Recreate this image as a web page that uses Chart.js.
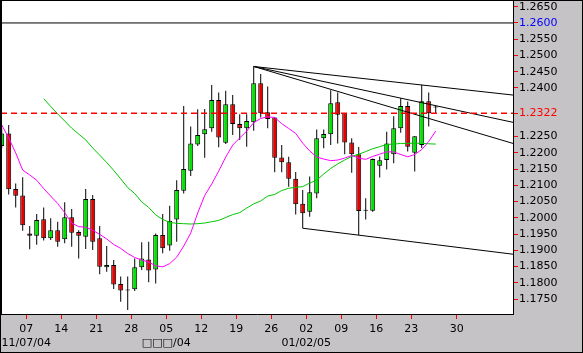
<!DOCTYPE html>
<html><head><meta charset="utf-8">
<script src="https://cdn.jsdelivr.net/npm/chart.js@4.4.1/dist/chart.umd.min.js"></script>
<style>html,body{margin:0;padding:0;background:#fff;overflow:hidden}canvas{display:block}</style>
</head><body>
<canvas id="c" width="583" height="353"></canvas>
<script>
const openP = [1.2221,1.2260,1.2089,1.2069,1.1952,1.1945,1.1996,1.1937,1.1962,1.1934,
1.2002,1.1956,1.1942,1.2058,1.1937,1.1848,1.1855,1.1796,1.1776,1.1780,
1.1848,1.1872,1.1841,1.1947,1.1915,1.1995,1.2083,1.2145,1.2226,1.2257,
1.2276,1.2363,1.2231,1.2350,1.2289,1.2276,1.2294,1.2414,1.2325,1.2309,
1.2186,1.2171,1.2120,1.2043,1.2019,1.2075,1.2245,1.2257,1.2356,1.2322,
1.2232,1.2196,1.2022,1.2022,1.2160,1.2178,1.2196,1.2276,1.2344,1.2200,
1.2224,1.2359,1.2340];
const highP = [1.2277,1.2286,1.2106,1.2125,1.1975,1.2012,1.2032,1.1999,1.1988,1.2048,
1.2027,1.1962,1.2089,1.2070,1.1975,1.1913,1.1870,1.1819,1.1819,1.1875,
1.1925,1.1926,1.1952,1.2012,1.2037,1.2116,1.2344,1.2281,1.2334,1.2335,
1.2409,1.2386,1.2391,1.2378,1.2319,1.2319,1.2466,1.2443,1.2404,1.2309,
1.2224,1.2188,1.2141,1.2086,1.2127,1.2272,1.2272,1.2393,1.2386,1.2322,
1.2245,1.2218,1.2060,1.2183,1.2189,1.2265,1.2313,1.2368,1.2358,1.2251,
1.2410,1.2386,1.2344];
const lowP = [1.2215,1.2072,1.2032,1.1960,1.1903,1.1917,1.1930,1.1932,1.1911,1.1922,
1.1911,1.1875,1.1904,1.1901,1.1826,1.1834,1.1781,1.1742,1.1716,1.1775,
1.1839,1.1802,1.1798,1.1891,1.1899,1.1926,1.2075,1.2129,1.2221,1.2185,
1.2265,1.2217,1.2227,1.2255,1.2240,1.2219,1.2268,1.2309,1.2276,1.2140,
1.2140,1.2096,1.2010,1.1968,1.2003,1.2060,1.2214,1.2224,1.2229,1.2196,
1.2139,1.1947,1.1995,1.2019,1.2124,1.2149,1.2168,1.2262,1.2204,1.2143,
1.2215,1.2281,1.2322];
const closeP = [1.2260,1.2088,1.2068,1.1977,1.1945,1.1993,1.1937,1.1962,1.1926,1.2002,
1.1954,1.1945,1.2058,1.1926,1.1849,1.1855,1.1795,1.1776,1.1776,1.1848,
1.1875,1.1838,1.1947,1.1906,1.1991,1.2086,1.2150,1.2229,1.2255,1.2273,
1.2363,1.2247,1.2350,1.2289,1.2276,1.2298,1.2414,1.2322,1.2304,1.2185,
1.2171,1.2120,1.2042,1.2014,1.2079,1.2245,1.2258,1.2353,1.2317,1.2232,
1.2196,1.2021,1.2022,1.2181,1.2177,1.2229,1.2276,1.2344,1.2219,1.2251,
1.2359,1.2322,1.2340];
const maFast = [1.2286,1.2246,1.2200,1.2147,1.2132,1.2116,1.2090,1.2067,1.2044,1.2016,
1.1984,1.1973,1.1971,1.1962,1.1949,1.1935,1.1918,1.1906,1.1890,1.1878,
1.1870,1.1864,1.1852,1.1849,1.1859,1.1879,1.1913,1.1953,1.2015,1.2069,
1.2104,1.2144,1.2187,1.2224,1.2246,1.2267,1.2293,1.2306,1.2311,1.2309,
1.2290,1.2275,1.2260,1.2230,1.2206,1.2187,1.2181,1.2176,1.2178,1.2184,
1.2192,1.2184,1.2180,1.2189,1.2196,1.2203,1.2203,1.2195,1.2188,1.2195,
1.2210,1.2235,1.2267];
const maSlow = [null,null,null,null,null,null,1.2367,1.2343,1.2320,1.2298,
1.2276,1.2258,1.2240,1.2215,1.2193,1.2170,1.2146,1.2120,1.2093,1.2075,
1.2049,1.2032,1.2009,1.1995,1.1986,1.1983,1.1982,1.1981,1.1982,1.1984,
1.1988,1.1992,1.2001,1.2010,1.2016,1.2030,1.2043,1.2052,1.2067,1.2072,
1.2084,1.2091,1.2094,1.2096,1.2107,1.2116,1.2135,1.2152,1.2166,1.2178,
1.2189,1.2196,1.2204,1.2213,1.2219,1.2226,1.2227,1.2229,1.2229,1.2230,
1.2229,1.2228,1.2227];
const xTickPos = [3.5,8.5,13.5,18.5,23.5,28.5,33.5,38.5,43.5,48.5,53.5,58.5,65];
const xTickLabels = ['07','14','21','28','05','12','19','26','02','09','16','23','30'];
const xTickSub = ['11/07/04','','','','□□□/04','','','','01/02/05','','','',''];
const yTickValues = [1.175,1.18,1.185,1.19,1.195,1.2,1.205,1.21,1.215,1.22,1.225,1.2322,1.24,1.245,1.25,1.255,1.26,1.265];
const lastPrice = 1.2322;
const resistance = 1.26;
const fanStartX = 36, fanStartY = 1.2466;
const fanEndY = [1.2378, 1.2294, 1.2229];
const supportX = [43, 73.04];
const supportY = [1.1968, 1.1888];

const X_MIN = -0.1, X_MAX = 73.04, Y_MIN = 1.17039, Y_MAX = 1.26676;
const idx = openP.map((_, i) => i);
const wickData = idx.map(i => ({x: i, y: [lowP[i], highP[i]]}));
const bodyData = idx.map(i => ({x: i, y: [openP[i], closeP[i]]}));
const bodyColors = idx.map(i => closeP[i] > openP[i] ? '#00e400' : (closeP[i] < openP[i] ? '#e60000' : '#000000'));
const lineDs = (pts, color, extra) => Object.assign({type: 'line', data: pts, borderColor: color, borderWidth: 1, pointRadius: 0, tension: 0, fill: false, order: 0}, extra || {});

const datasets = [
  lineDs([{x: X_MIN, y: resistance}, {x: X_MAX, y: resistance}], '#000000'),
  lineDs([{x: X_MIN, y: lastPrice}, {x: X_MAX, y: lastPrice}], '#ff0000', {borderDash: [6, 4], borderWidth: 1.3}),
  ...fanEndY.map(v => lineDs([{x: fanStartX, y: fanStartY}, {x: X_MAX, y: v}], '#000000')),
  lineDs(supportX.map((x, k) => ({x, y: supportY[k]})), '#000000'),
  lineDs(idx.map(i => ({x: i, y: maFast[i]})), '#ff00ff', {order: 1}),
  lineDs(idx.map(i => ({x: i, y: maSlow[i]})), '#00c800', {order: 1}),
  {type: 'bar', data: bodyData, backgroundColor: bodyColors, borderColor: '#000000', borderWidth: 1, borderSkipped: false,
   barThickness: 5, minBarLength: 1, grouped: false, inflateAmount: 0, order: 2},
  {type: 'bar', data: wickData, backgroundColor: '#000000', borderWidth: 0, barThickness: 1, grouped: false, inflateAmount: 0, order: 3}
];

const frame = {
  id: 'frame',
  beforeDraw(chart) {
    const {ctx, chartArea: a} = chart;
    ctx.save();
    ctx.fillStyle = '#c6c3c6';
    ctx.fillRect(0, 0, chart.width, chart.height);
    ctx.fillStyle = '#ffffff';
    ctx.fillRect(a.left, a.top, a.right - a.left, a.bottom - a.top);
    ctx.restore();
  },
  afterDraw(chart) {
    const {ctx, chartArea: a} = chart;
    ctx.save();
    ctx.strokeStyle = '#000';
    ctx.lineWidth = 1;
    ctx.strokeRect(0.5, 0.5, chart.width - 1, chart.height - 1);
    ctx.beginPath();
    ctx.moveTo(a.left + 0.5, a.top); ctx.lineTo(a.left + 0.5, a.bottom);
    ctx.stroke();
    ctx.restore();
  }
};

const font = {family: 'DejaVu Sans', size: 11};
new Chart(document.getElementById('c'), {
  type: 'bar',
  data: {datasets},
  plugins: [frame],
  options: {
    responsive: false, animation: false, devicePixelRatio: 1,
    layout: {padding: {left: 1, top: 1, right: 0, bottom: 0}},
    plugins: {legend: {display: false}, tooltip: {enabled: false}},
    events: [],
    scales: {
      x: {
        type: 'linear', min: X_MIN, max: X_MAX, offset: false,
        grid: {drawOnChartArea: false, drawTicks: true, tickLength: 5, tickColor: '#ff0000', offset: false},
        border: {color: '#000', width: 1},
        afterBuildTicks: s => { s.ticks = xTickPos.map(v => ({value: v})); },
        afterFit: s => { s.height = 39; s.paddingLeft = 0; s.paddingRight = 0; },
        ticks: {autoSkip: false, maxRotation: 0, minRotation: 0, padding: 4, color: '#000', font,
          callback: (v, i) => xTickSub[i] ? [xTickLabels[i], xTickSub[i]] : xTickLabels[i]}
      },
      y: {
        type: 'linear', position: 'right', min: Y_MIN, max: Y_MAX,
        grid: {drawOnChartArea: false, drawTicks: true, tickLength: 5, tickColor: '#ff0000'},
        border: {color: '#000', width: 1},
        afterBuildTicks: s => { s.ticks = yTickValues.map(v => ({value: v})); },
        afterFit: s => { s.width = 70; s.paddingTop = 0; s.paddingBottom = 0; },
        ticks: {padding: 1, font,
          color: c => (c.tick && Math.abs(c.tick.value - resistance) < 1e-6) ? '#0000ff' : ((c.tick && Math.abs(c.tick.value - lastPrice) < 1e-6) ? '#ff0000' : '#000'),
          callback: v => Number(v).toFixed(4)}
      }
    }
  }
});
</script>
</body></html>
